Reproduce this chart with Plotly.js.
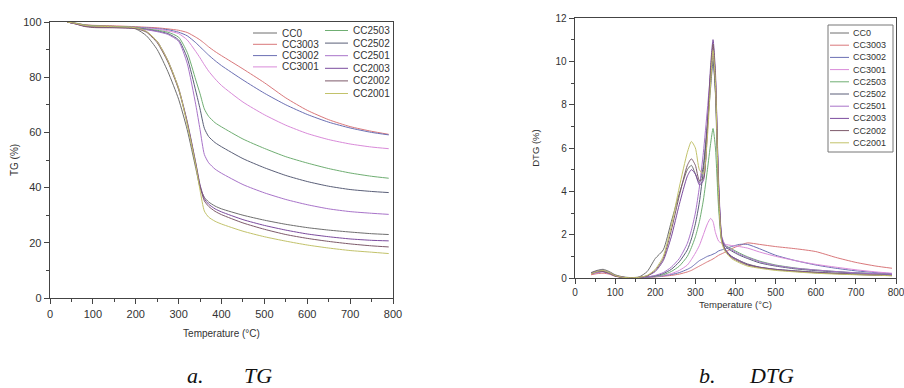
<!DOCTYPE html>
<html>
<head>
<meta charset="utf-8">
<script src="https://cdn.plot.ly/plotly-3.0.1.min.js"></script>
<style>html,body{margin:0;padding:0;background:#fff;}#chart{width:904px;height:388px;}</style>
</head>
<body>
<div id="chart"></div>
<script>
// ---------------- DATA ----------------
const seriesNames = ['CC0','CC3003','CC3002','CC3001','CC2503','CC2502','CC2501','CC2003','CC2002','CC2001'];
const seriesColors = ['#6e6e6e','#d9777a','#6b6fb3','#d98ad9','#6fae72','#5a5f78','#a873c9','#7b4b9e','#7d5a6a','#c2c26a'];

// TG (%) vs temperature (°C)
const T_TG = [40,60,80,100,150,200,225,250,275,300,320,340,350,360,370,385,400,450,500,550,600,650,700,750,790];
const tg_CC0    = [100,99.6,99.0,98.7,98.4,97.5,95.0,90.0,82.0,72.0,61.0,47.0,40.0,36.5,34.8,33.3,32.3,30.0,28.2,26.7,25.5,24.6,23.9,23.3,23.0];
const tg_CC3003 = [100,99.5,99.0,98.8,98.6,98.3,98.1,97.9,97.5,97.0,96.2,94.5,93.5,92.3,91.0,89.3,87.8,83.0,78.0,72.5,68.0,64.6,62.1,60.4,59.3];
const tg_CC3002 = [100,99.4,98.8,98.5,98.3,98.1,97.9,97.6,97.2,96.3,95.0,92.5,91.0,89.5,88.0,86.0,84.2,79.0,74.2,70.0,66.5,63.7,61.6,60.0,59.1];
const tg_CC3001 = [100,99.3,98.6,98.3,98.1,97.9,97.7,97.4,96.8,95.8,93.5,89.3,87.0,84.5,82.2,79.4,77.0,71.0,66.4,62.6,59.6,57.4,55.8,54.7,54.1];
const tg_CC2503 = [100,99.5,98.9,98.6,98.4,98.0,97.5,97.0,96.3,94.5,89.0,79.0,74.0,68.5,65.8,63.5,62.0,57.6,54.2,51.2,48.9,46.9,45.3,44.1,43.4];
const tg_CC2502 = [100,99.4,98.6,98.3,98.1,97.8,97.3,96.7,95.8,93.5,87.0,75.0,68.5,61.5,58.5,56.3,54.8,50.5,47.2,44.4,42.2,40.5,39.3,38.6,38.2];
const tg_CC2501 = [100,99.3,98.5,98.2,98.0,97.7,97.2,96.5,95.5,93.0,85.0,70.0,61.0,52.0,49.0,46.7,45.2,41.1,38.1,35.7,33.8,32.3,31.3,30.7,30.3];
const tg_CC2003 = [100,99.4,98.6,98.3,98.1,97.8,96.5,93.0,86.0,76.0,64.0,49.0,41.0,36.0,34.0,32.3,31.2,28.4,26.3,24.6,23.2,22.2,21.4,20.9,20.7];
const tg_CC2002 = [100,99.3,98.4,98.0,97.9,97.6,96.3,92.5,85.5,75.5,63.5,48.5,40.5,35.2,33.2,31.4,30.2,27.2,24.9,23.0,21.6,20.5,19.6,18.9,18.5];
const tg_CC2001 = [100,99.5,98.8,98.5,98.3,97.9,96.6,93.0,86.0,76.0,63.0,48.0,39.0,31.5,29.3,27.8,26.8,24.2,22.2,20.6,19.2,18.1,17.2,16.6,16.1];

// DTG (%) vs temperature (°C)
const T_DTG = [40,55,70,85,100,120,140,160,180,200,220,240,260,280,290,300,310,320,330,338,344,350,358,366,375,390,410,430,460,500,550,600,650,700,750,790];
const dtg_CC0    = [0.25,0.35,0.40,0.30,0.15,0.05,0.02,0.05,0.30,0.90,1.30,2.60,3.90,5.00,5.20,4.80,4.40,5.20,7.20,9.20,10.3,8.50,3.60,1.70,1.30,1.00,0.80,0.65,0.50,0.40,0.33,0.27,0.22,0.18,0.15,0.12];
const dtg_CC3003 = [0.15,0.20,0.22,0.18,0.08,0.02,0.01,0.01,0.03,0.05,0.08,0.12,0.18,0.28,0.35,0.45,0.55,0.65,0.75,0.82,0.88,0.95,1.05,1.12,1.20,1.35,1.50,1.62,1.55,1.45,1.35,1.22,0.95,0.72,0.55,0.45];
const dtg_CC3002 = [0.22,0.28,0.30,0.22,0.10,0.03,0.01,0.02,0.04,0.06,0.10,0.16,0.25,0.40,0.50,0.65,0.80,0.90,1.00,1.05,1.10,1.15,1.25,1.30,1.35,1.45,1.55,1.55,1.35,1.05,0.80,0.60,0.45,0.33,0.25,0.20];
const dtg_CC3001 = [0.20,0.25,0.28,0.20,0.10,0.03,0.01,0.02,0.04,0.07,0.12,0.20,0.35,0.60,0.85,1.15,1.50,2.00,2.50,2.75,2.60,2.10,1.70,1.60,1.55,1.50,1.45,1.38,1.20,1.00,0.80,0.63,0.50,0.38,0.28,0.22];
const dtg_CC2503 = [0.20,0.27,0.30,0.22,0.10,0.03,0.01,0.02,0.04,0.08,0.15,0.30,0.55,1.00,1.40,1.90,2.60,3.60,5.00,6.20,6.90,6.00,3.20,1.70,1.50,1.35,1.15,0.98,0.78,0.60,0.46,0.37,0.30,0.24,0.20,0.16];
const dtg_CC2502 = [0.20,0.28,0.30,0.22,0.10,0.03,0.01,0.02,0.05,0.10,0.20,0.40,0.75,1.30,1.80,2.50,3.50,5.00,7.00,8.80,10.0,8.60,4.20,1.80,1.45,1.25,1.05,0.90,0.70,0.55,0.42,0.34,0.28,0.23,0.19,0.16];
const dtg_CC2501 = [0.20,0.25,0.30,0.20,0.10,0.03,0.01,0.02,0.05,0.12,0.25,0.50,0.90,1.60,2.20,3.00,4.20,5.80,7.80,9.50,10.5,9.20,4.50,1.90,1.50,1.30,1.10,0.95,0.75,0.58,0.45,0.37,0.30,0.24,0.20,0.17];
const dtg_CC2003 = [0.22,0.32,0.35,0.25,0.12,0.03,0.01,0.03,0.10,0.30,0.80,1.90,3.40,4.70,5.00,4.80,4.30,4.50,7.00,9.80,11.0,9.50,4.20,1.80,1.30,1.00,0.80,0.62,0.50,0.40,0.32,0.26,0.21,0.17,0.14,0.12];
const dtg_CC2002 = [0.20,0.30,0.30,0.22,0.10,0.03,0.01,0.03,0.10,0.35,0.90,2.20,3.80,5.20,5.50,5.20,4.50,4.60,6.80,9.50,10.8,9.20,4.00,1.70,1.25,0.95,0.75,0.60,0.48,0.38,0.30,0.24,0.20,0.16,0.13,0.11];
const dtg_CC2001 = [0.20,0.30,0.35,0.25,0.12,0.03,0.01,0.03,0.12,0.40,1.00,2.40,4.20,5.80,6.30,6.00,5.00,4.80,6.50,9.00,10.5,9.00,3.80,1.60,1.20,0.90,0.70,0.55,0.45,0.35,0.28,0.22,0.18,0.15,0.13,0.10];

const tgSeries  = [tg_CC0,tg_CC3003,tg_CC3002,tg_CC3001,tg_CC2503,tg_CC2502,tg_CC2501,tg_CC2003,tg_CC2002,tg_CC2001];
const dtgSeries = [dtg_CC0,dtg_CC3003,dtg_CC3002,dtg_CC3001,dtg_CC2503,dtg_CC2502,dtg_CC2501,dtg_CC2003,dtg_CC2002,dtg_CC2001];

// ---------------- CHART ----------------
const W = 904, H = 388;
const px = v => v / W;          // pixel x -> paper
const py = v => 1 - v / H;      // pixel y (from top) -> paper
const FONT = 'Liberation Sans, Arial, sans-serif';
const SERIF = 'Liberation Serif, Times New Roman, serif';
const AX = '#444';

const traces = [];
seriesNames.forEach((n, i) => {
  traces.push({x: T_TG, y: tgSeries[i], name: n, type: 'scatter', mode: 'lines',
    line: {color: seriesColors[i], width: 1, shape: 'spline', smoothing: 0.6},
    xaxis: 'x', yaxis: 'y', showlegend: false, hoverinfo: 'skip'});
});
seriesNames.forEach((n, i) => {
  traces.push({x: T_DTG, y: dtgSeries[i], name: n, type: 'scatter', mode: 'lines',
    line: {color: seriesColors[i], width: 1, shape: 'spline', smoothing: 0.6},
    xaxis: 'x2', yaxis: 'y2', showlegend: false, hoverinfo: 'skip'});
});

function axis(extra) {
  return Object.assign({
    showline: true, linecolor: AX, linewidth: 1.3, mirror: true,
    ticks: 'outside', ticklen: 5, tickwidth: 1, tickcolor: AX,
    showgrid: false, zeroline: false, ticklabeloverflow: 'allow',
    tickfont: {family: FONT, size: 11, color: '#333'},
  }, extra);
}

const shapes = [];
const annotations = [];

// Left legend: two columns
const leftCols = [
  {names: seriesNames.slice(0, 4), lineX0: 253, lineX1: 277, textX: 280, y0: 33, dy: 11.3},
  {names: seriesNames.slice(4), lineX0: 325, lineX1: 348, textX: 351, y0: 30.5, dy: 12.6}
];
let idx = 0;
leftCols.forEach(col => {
  col.names.forEach((n, k) => {
    const y = col.y0 + k * col.dy;
    shapes.push({type: 'line', xref: 'paper', yref: 'paper', x0: px(col.lineX0), x1: px(col.lineX1), y0: py(y), y1: py(y),
      line: {color: seriesColors[idx], width: 1}});
    annotations.push({xref: 'paper', yref: 'paper', x: px(col.textX), y: py(y), xanchor: 'left', yanchor: 'middle',
      text: n, showarrow: false, font: {family: FONT, size: 10, color: '#333'}});
    idx++;
  });
});

// Right legend: single boxed column
shapes.push({type: 'rect', xref: 'paper', yref: 'paper', x0: px(828), x1: px(893), y0: py(25), y1: py(152),
  line: {color: '#777', width: 1}, fillcolor: 'rgba(0,0,0,0)'});
seriesNames.forEach((n, i) => {
  const y = 33 + i * 12.2;
  shapes.push({type: 'line', xref: 'paper', yref: 'paper', x0: px(830), x1: px(849), y0: py(y), y1: py(y),
    line: {color: seriesColors[i], width: 1}});
  annotations.push({xref: 'paper', yref: 'paper', x: px(851), y: py(y), xanchor: 'left', yanchor: 'middle',
    text: n, showarrow: false, font: {family: FONT, size: 9, color: '#333'}});
});

// Captions
[['<i>a.</i>', 185], ['<i>TG</i>', 242], ['<i>b.</i>', 697], ['<i>DTG</i>', 747]].forEach(c => {
  annotations.push({xref: 'paper', yref: 'paper', x: px(c[1]), y: py(375), xanchor: 'left', yanchor: 'middle',
    text: c[0], showarrow: false, font: {family: SERIF, size: 22, color: '#111'}});
});

const layout = {
  width: W, height: H,
  margin: {l: 0, r: 0, t: 0, b: 0},
  paper_bgcolor: '#fff', plot_bgcolor: '#fff',
  showlegend: false,
  font: {family: FONT, color: '#333'},
  xaxis: axis({domain: [px(50), px(393)], anchor: 'y', range: [0, 800], tick0: 0, dtick: 100,
    minor: {ticks: 'outside', ticklen: 3, dtick: 50, tick0: 0, tickcolor: AX, showgrid: false},
    title: {text: 'Temperature (°C)', font: {family: FONT, size: 10, color: '#333'}, standoff: 11}}),
  yaxis: axis({domain: [1 - 298 / H, 1 - 22 / H], anchor: 'x', range: [0, 100], tick0: 0, dtick: 20,
    minor: {ticks: 'outside', ticklen: 3, dtick: 10, tick0: 0, tickcolor: AX, showgrid: false},
    title: {text: 'TG (%)', font: {family: FONT, size: 10, color: '#333'}, standoff: 2}}),
  xaxis2: axis({domain: [px(575), px(896)], anchor: 'y2', range: [0, 800], tick0: 0, dtick: 100,
    tickfont: {family: FONT, size: 10, color: '#333'},
    minor: {ticks: 'outside', ticklen: 3, dtick: 50, tick0: 0, tickcolor: AX, showgrid: false},
    title: {text: 'Temperature (°C)', font: {family: FONT, size: 9.5, color: '#333'}, standoff: 4}}),
  yaxis2: axis({domain: [1 - 278 / H, 1 - 18 / H], anchor: 'x2', range: [0, 12], tick0: 0, dtick: 2,
    tickfont: {family: FONT, size: 10, color: '#333'},
    minor: {ticks: 'outside', ticklen: 3, dtick: 1, tick0: 0, tickcolor: AX, showgrid: false},
    title: {text: 'DTG (%)', font: {family: FONT, size: 9.5, color: '#333'}, standoff: 14}}),
  shapes: shapes,
  annotations: annotations
};

Plotly.newPlot('chart', traces, layout, {staticPlot: true, displayModeBar: false});
</script>
</body>
</html>
